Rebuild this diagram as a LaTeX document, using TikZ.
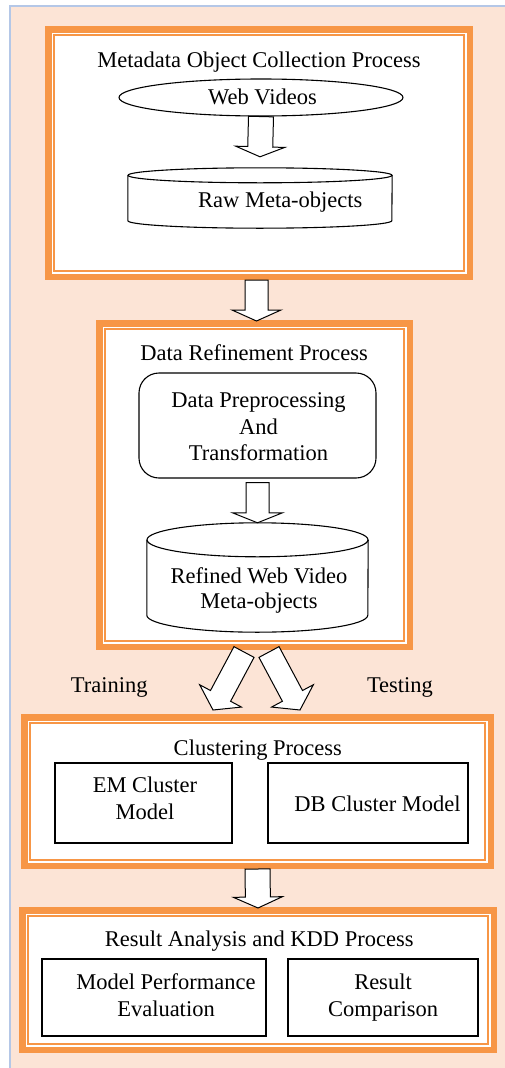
\documentclass[tikz,border=0pt]{standalone}
\usepackage{fontspec}
\setmainfont{Liberation Serif}
\usetikzlibrary{calc,shapes.geometric}

\definecolor{peach}{HTML}{FCE4D6}
\definecolor{frameorange}{HTML}{F79646}
\definecolor{edgeblue}{HTML}{B4C7E7}

\tikzset{
  procframe/.style={draw=frameorange, line width=6.5pt, fill=white, inner sep=0pt},
  thinframe/.style={draw=frameorange, line width=1.2pt},
  shapeline/.style={draw=black, line width=1.1pt},
  plainbox/.style={draw=black, line width=1.2pt, fill=white, inner sep=0pt},
  lbl/.style={font=\fontsize{22.5}{26.5}\selectfont, inner sep=0pt, anchor=base, align=center},
  fatarrowline/.style={draw=black, line width=1pt, fill=white, line join=miter},
}

% hollow block arrow: start, end, shaft half width, head half width, head length
\newcommand{\fatarrow}[5]{%
  \path (#1) coordinate (fa-s) (#2) coordinate (fa-t);
  \path ($(fa-t)!#5!(fa-s)$) coordinate (fa-n);
  \draw[fatarrowline] ($(fa-s)!#3!90:(fa-t)$) -- ($(fa-n)!#3!90:(fa-t)$)
    -- ($(fa-n)!#4!90:(fa-t)$) -- (fa-t) -- ($(fa-n)!#4!-90:(fa-t)$)
    -- ($(fa-n)!#3!-90:(fa-t)$) -- ($(fa-s)!#3!-90:(fa-t)$) -- cycle;
}

% drum outline inside a named rectangular node: node, x radius, y radius
\newcommand{\drum}[3]{%
  \draw[shapeline, fill=white] ([yshift=-#3]#1.north west) -- ([yshift=#3]#1.south west)
    arc[start angle=180, end angle=360, x radius=#2, y radius=#3]
    -- ([yshift=-#3]#1.north east);
  \draw[shapeline] ([yshift=-#3]#1.north) ellipse [x radius=#2, y radius=#3];
}

\begin{document}
\begin{tikzpicture}[x=1pt, y=-1pt]
\useasboundingbox (0,0) rectangle (505,1068);

% page panel
\fill[peach] (10,6) rectangle (505,1068);
\draw[edgeblue, line width=1.5pt] (10,1068) -- (10,6) -- (505,6);

% process frames
\node[procframe, minimum width=421.5pt, minimum height=247.5pt] (b1) at (259,153) {};
\node[procframe, minimum width=310.5pt, minimum height=323.5pt] (b2) at (254.5,485) {};
\node[procframe, minimum width=466.5pt, minimum height=148.5pt] (b3) at (257.5,791.5) {};
\node[procframe, minimum width=471.5pt, minimum height=139.5pt] (b4) at (258,980) {};
\foreach \b in {b1,b2,b3,b4}
  \draw[thinframe] ([shift={(9pt,-9pt)}]\b.north west) rectangle ([shift={(-9pt,9pt)}]\b.south east);

% Metadata object collection
\node[lbl] (t1) at (259,67) {Metadata Object Collection Process};
\node[ellipse, shapeline, inner sep=0pt, minimum width=284pt, minimum height=37pt] (web) at (261,97.5) {};
\node[lbl] (webtxt) at (262.5,104) {Web Videos};
\node[inner sep=0pt, minimum width=264pt, minimum height=60pt] (raw) at (260,198) {};
\drum{raw}{132pt}{7.5pt}
\node[lbl] (rawtxt) at (280.3,207.5) {Raw Meta-objects};
\fatarrow{web.south}{[yshift=11pt]raw.north}{12.5pt}{24.5pt}{10pt}

% Data refinement
\node[lbl] (t2) at (254.2,360.7) {Data Refinement Process};
\node[shapeline, rounded corners=20pt, fill=white, inner sep=0pt, minimum width=237pt, minimum height=105pt] (prep) at (257.5,425.5) {};
\node[lbl] (preptxt) at (258.5,460.7) {Data Preprocessing\\And\\Transformation};
\node[inner sep=0pt, minimum width=221pt, minimum height=109pt] (refined) at (257.5,577.5) {};
\drum{refined}{110.5pt}{17pt}
\node[lbl, font=\fontsize{22.5}{25}\selectfont] (refinedtxt) at (259,608.3) {Refined Web Video\\Meta-objects};
\fatarrow{[yshift=-4pt]prep.south}{refined.north}{11.5pt}{25pt}{10pt}

% Clustering
\node[lbl] (t3) at (257.8,755) {Clustering Process};
\node[plainbox, minimum width=177pt, minimum height=80pt] (em) at (143.5,803) {};
\node[lbl] (emtxt) at (145,819.3) {EM Cluster\\Model};
\node[plainbox, minimum width=200pt, minimum height=80pt] (db) at (368,803) {};
\node[lbl] (dbtxt) at (377.5,811.7) {DB Cluster Model};

% Result analysis
\node[lbl] (t4) at (259.2,946.7) {Result Analysis and KDD Process};
\node[plainbox, minimum width=224pt, minimum height=77pt] (perf) at (154,997.5) {};
\node[lbl] (perftxt) at (166,1016) {Model Performance\\Evaluation};
\node[plainbox, minimum width=190pt, minimum height=77pt] (comp) at (383,997.5) {};
\node[lbl] (comptxt) at (383,1016) {Result\\Comparison};

% flow between frames
\fatarrow{[xshift=-2.5pt]b1.south}{[shift={(2pt,-1pt)}]b2.north}{11.5pt}{24.5pt}{11pt}
\fatarrow{[shift={(-10.5pt,-2pt)}]b2.south}{[shift={(-44.5pt,4pt)}]b3.north}{11.4pt}{23.7pt}{16pt}
\fatarrow{[shift={(14.5pt,-2pt)}]b2.south}{[shift={(42.5pt,4pt)}]b3.north}{11.4pt}{23.7pt}{16pt}
\fatarrow{b3.south}{[yshift=-1pt]b4.north}{12.5pt}{24.5pt}{11pt}

\node[lbl] (train) at (109.2,692.7) {Training};
\node[lbl] (test) at (400,692.7) {Testing};
\end{tikzpicture}
\end{document}
